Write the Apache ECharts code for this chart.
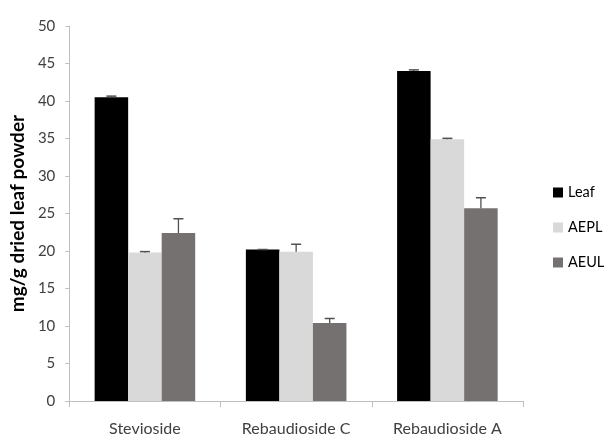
<!DOCTYPE html>
<html>
<head>
<meta charset="utf-8">
<script src="https://cdn.jsdelivr.net/npm/echarts@6/dist/echarts.min.js"></script>
<style>
html,body{margin:0;padding:0;background:#fff;}
#chart{width:606px;height:437px;}
</style>
</head>
<body>
<div id="chart"></div>
<script>
var categories = ['Stevioside', 'Rebaudioside C', 'Rebaudioside A'];
var seriesNames = ['Leaf', 'AEPL', 'AEUL'];
var leafValues = [40.5, 20.2, 44.0];
var aeplValues = [19.8, 19.9, 34.9];
var aeulValues = [22.4, 10.4, 25.7];
var leafErrors = [0.15, 0.0, 0.15];
var aeplErrors = [0.12, 1.0, 0.12];
var aeulErrors = [1.9, 0.6, 1.4];
var yTicks = [0, 5, 10, 15, 20, 25, 30, 35, 40, 45, 50];

var colors = ['#000000', '#d9d9d9', '#767171'];
var FONT = 'Lato';
var CATGAP = 0.335;

var allValues = [leafValues, aeplValues, aeulValues];
var allErrors = [leafErrors, aeplErrors, aeulErrors];

var series = [];
for (var s = 0; s < 3; s++) {
  series.push({
    name: seriesNames[s],
    type: 'bar',
    data: allValues[s],
    barGap: '0%',
    barCategoryGap: (CATGAP * 100) + '%',
    itemStyle: { color: colors[s] },
    z: 2
  });
}
for (var s2 = 0; s2 < 3; s2++) {
  (function (si) {
    var errData = [];
    for (var i = 0; i < categories.length; i++) {
      errData.push([i, allValues[si][i], allErrors[si][i]]);
    }
    series.push({
      type: 'custom',
      name: seriesNames[si] + ' err',
      data: errData,
      z: 3,
      silent: true,
      encode: { x: 0, y: 1 },
      renderItem: function (params, api) {
        var idx = api.value(0);
        var val = api.value(1);
        var err = api.value(2);
        var base = api.coord([idx, val]);
        var top = api.coord([idx, val + err]);
        var catW = api.size([1, 0])[0];
        var groupW = catW * (1 - CATGAP);
        var bw = groupW / 3;
        var cx = base[0] + (si - 1) * bw;
        var capHalf = 5;
        return {
          type: 'group',
          children: [
            { type: 'line', shape: { x1: cx, y1: base[1], x2: cx, y2: top[1] }, style: { stroke: '#505050', lineWidth: 1.3 } },
            { type: 'line', shape: { x1: cx - capHalf, y1: top[1], x2: cx + capHalf, y2: top[1] }, style: { stroke: '#505050', lineWidth: 1.5 } }
          ]
        };
      }
    });
  })(s2);
}

var chart = echarts.init(document.getElementById('chart'), null, { renderer: 'canvas' });
chart.setOption({
  animation: false,
  backgroundColor: '#ffffff',
  grid: { left: 66, right: 83, top: 26, bottom: 34, containLabel: false },
  legend: {
    data: seriesNames,
    orient: 'vertical',
    left: 553,
    top: 185,
    padding: 0,
    icon: 'rect',
    itemWidth: 10,
    itemHeight: 10,
    itemGap: 20,
    textStyle: { fontFamily: FONT, fontSize: 14.5, color: '#000' }
  },
  xAxis: {
    type: 'category',
    data: categories,
    axisLine: { show: true, lineStyle: { color: '#bfbfbf', width: 1 } },
    axisTick: { show: true, length: 6, lineStyle: { color: '#bfbfbf' } },
    axisLabel: { fontFamily: FONT, fontSize: 16, color: '#404040', margin: 20 },
    splitLine: { show: false }
  },
  yAxis: {
    type: 'value',
    min: yTicks[0],
    max: yTicks[yTicks.length - 1],
    interval: 5,
    name: 'mg/g dried leaf powder',
    nameLocation: 'middle',
    nameGap: 38,
    nameTextStyle: { fontFamily: FONT, fontSize: 19, fontWeight: 'bold', color: '#000' },
    axisLine: { show: true, lineStyle: { color: '#bfbfbf', width: 1 } },
    axisTick: { show: true, length: 4, lineStyle: { color: '#bfbfbf' } },
    axisLabel: { fontFamily: FONT, fontSize: 15, color: '#404040', margin: 14 },
    splitLine: { show: false }
  },
  series: series
});
</script>
</body>
</html>
